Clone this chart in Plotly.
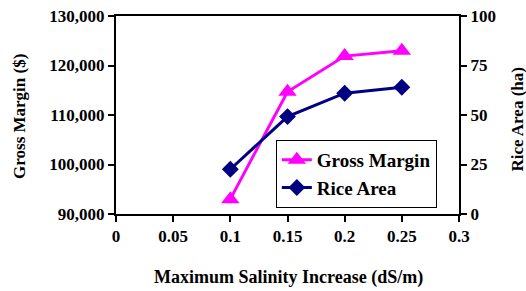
import plotly.graph_objects as go

x_vals = [0.1, 0.15, 0.2, 0.25]
gross_margin = [93000, 114700, 121900, 123000]
rice_area = [22.6, 49.2, 61.0, 64.0]

x_ticks = [0, 0.05, 0.1, 0.15, 0.2, 0.25, 0.3]
x_tick_text = ["0", "0.05", "0.1", "0.15", "0.2", "0.25", "0.3"]
gm_ticks = [90000, 100000, 110000, 120000, 130000]
gm_tick_text = ["90,000", "100,000", "110,000", "120,000", "130,000"]
ra_ticks = [0, 25, 50, 75, 100]

FAM = "Liberation Serif"
font = dict(family=FAM, size=17, color="black")

fig = go.Figure()
fig.add_trace(go.Scatter(
    x=x_vals, y=gross_margin, name="<b>Gross Margin</b>", mode="lines+markers",
    line=dict(color="#FF00FF", width=3),
    marker=dict(symbol="triangle-up", size=16, color="#FF00FF"),
    yaxis="y", cliponaxis=False))
fig.add_trace(go.Scatter(
    x=x_vals, y=rice_area, name="<b>Rice Area</b>", mode="lines+markers",
    line=dict(color="#000080", width=3),
    marker=dict(symbol="diamond", size=13, color="#000080"),
    yaxis="y2", cliponaxis=False))

axis_common = dict(showgrid=False, zeroline=False, showline=True, linecolor="black",
                   linewidth=2, ticks="outside", ticklen=6, tickwidth=1.5,
                   tickcolor="black", automargin=False,
                   tickfont=dict(family=FAM, size=17, color="black"))

fig.update_layout(
    width=526, height=291,
    margin=dict(l=116, r=67, t=16, b=77, autoexpand=False),
    paper_bgcolor="white", plot_bgcolor="white",
    font=font,
    showlegend=True,
    legend=dict(x=0.466, y=0.374, xanchor="left", yanchor="top",
                bgcolor="white", bordercolor="black", borderwidth=1,
                font=dict(family=FAM, size=19, color="black"),
                tracegroupgap=0, itemsizing="trace"),
    xaxis=dict(range=[0, 0.3], tickvals=x_ticks, ticktext=["<b>%s</b>" % t for t in x_tick_text],
               mirror=True, **axis_common),
    yaxis=dict(range=[90000, 130000], tickvals=gm_ticks,
               ticktext=["<b>%s</b>" % t for t in gm_tick_text], **axis_common),
    yaxis2=dict(range=[0, 100], tickvals=ra_ticks, ticktext=["<b>%d</b>" % t for t in ra_ticks],
                overlaying="y", side="right", **axis_common),
    annotations=[
        dict(text="<b>Maximum Salinity Increase (dS/m)</b>", xref="paper", yref="paper",
             x=0.503, y=-0.323, xanchor="center", yanchor="middle", showarrow=False,
             font=dict(family=FAM, size=18, color="black")),
        dict(text="<b>Gross Margin ($)</b>", xref="paper", yref="paper",
             x=-0.28, y=0.495, xanchor="center", yanchor="middle", showarrow=False,
             textangle=-90, font=dict(family=FAM, size=17, color="black")),
        dict(text="<b>Rice Area (ha)</b>", xref="paper", yref="paper",
             x=1.172, y=0.482, xanchor="center", yanchor="middle", showarrow=False,
             textangle=-90, font=dict(family=FAM, size=17, color="black")),
    ],
)

fig.write_html("out.html", config={"displayModeBar": False},
               post_script="document.body.style.margin='0';")
